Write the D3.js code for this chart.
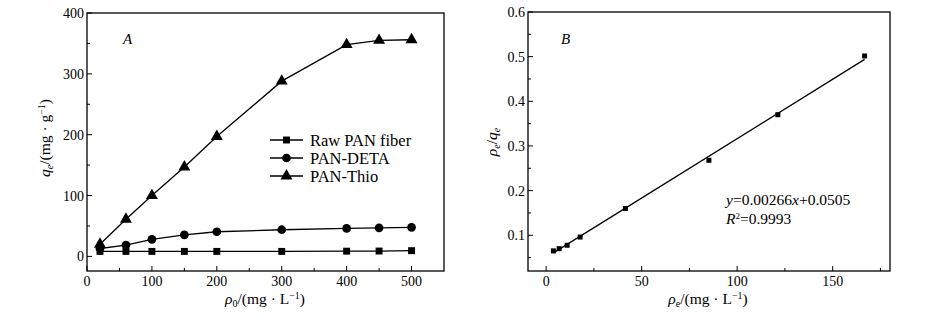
<!DOCTYPE html>
<html>
<head>
<meta charset="utf-8">
<script src="https://cdn.jsdelivr.net/npm/d3@7"></script>
<style>
  body { margin: 0; background: #fff; }
  svg text { font-family: "Liberation Serif", "Times New Roman", serif; fill: #000; }
</style>
</head>
<body>
<svg id="chart" width="945" height="325"></svg>
<script>
// Panel A data: adsorption capacity vs initial concentration
const rho0 = [20, 60, 100, 150, 200, 300, 400, 450, 500];
const rawPan = [8.2, 8.2, 8.2, 8.2, 8.2, 8.2, 8.6, 8.8, 9.4];
const panDeta = [13, 18.6, 28, 35.5, 40.5, 43.8, 46, 47, 47.7];
const panThio = [20, 61, 100, 147, 197, 288, 348, 355, 356];
const seriesNames = ["Raw PAN fiber", "PAN-DETA", "PAN-Thio"];

// Panel B data: linearised Langmuir plot
const rhoE = [3.8, 6.8, 11, 17.8, 41.5, 85.2, 121.3, 166.7];
const rhoEqE = [0.065, 0.070, 0.0776, 0.096, 0.160, 0.268, 0.370, 0.5015];
const fitSlope = 0.00266, fitIntercept = 0.0505;

const xTicksA = [0, 100, 200, 300, 400, 500];
const yTicksA = [0, 100, 200, 300, 400];
const xTicksB = [0, 50, 100, 150];
const yTicksB = [0.1, 0.2, 0.3, 0.4, 0.5, 0.6];

const svg = d3.select("#chart");
const FS = 14;

// draws the frame plus inward ticks on the bottom and left
function frame(g, x, y, xMaj, xMin, yMaj, yMin, yFmt) {
  const [x0, x1] = x.range(), [y0, y1] = y.range();
  g.append("rect").attr("x", x0).attr("y", y1).attr("width", x1 - x0).attr("height", y0 - y1)
    .attr("fill", "none").attr("stroke", "#000").attr("stroke-width", 1.3);

  g.selectAll(".xmin").data(xMin).enter().append("line")
    .attr("x1", d => x(d)).attr("x2", d => x(d)).attr("y1", y0).attr("y2", y0 - 3)
    .attr("stroke", "#000");
  g.selectAll(".xmaj").data(xMaj).enter().append("line")
    .attr("x1", d => x(d)).attr("x2", d => x(d)).attr("y1", y0).attr("y2", y0 - 5)
    .attr("stroke", "#000");
  g.selectAll(".xlab").data(xMaj).enter().append("text")
    .attr("x", d => x(d)).attr("y", y0 + 15).attr("text-anchor", "middle")
    .style("font-size", FS + "px").text(d => d);

  g.selectAll(".ymin").data(yMin).enter().append("line")
    .attr("y1", d => y(d)).attr("y2", d => y(d)).attr("x1", x0).attr("x2", x0 + 3)
    .attr("stroke", "#000");
  g.selectAll(".ymaj").data(yMaj).enter().append("line")
    .attr("y1", d => y(d)).attr("y2", d => y(d)).attr("x1", x0).attr("x2", x0 + 5)
    .attr("stroke", "#000");
  g.selectAll(".ylab").data(yMaj).enter().append("text")
    .attr("x", x0 - 3).attr("y", d => y(d) + 5).attr("text-anchor", "end")
    .style("font-size", FS + "px").text(yFmt);
}

// ---------- Panel A ----------
const xA = d3.scaleLinear().domain([0, 550]).range([87, 444]);
const yA = d3.scaleLinear().domain([-24, 400]).range([271, 13]);
const gA = svg.append("g");
frame(gA, xA, yA, xTicksA, [50, 150, 250, 350, 450],
      yTicksA, [50, 150, 250, 350], d => d);

const lineA = d3.line().x((d, i) => xA(rho0[i])).y(d => yA(d));
const symA = [d3.symbolSquare, d3.symbolCircle, d3.symbolTriangle];
const sizeA = [48, 60, 62];
[rawPan, panDeta, panThio].forEach((vals, k) => {
  gA.append("path").datum(vals).attr("d", lineA)
    .attr("fill", "none").attr("stroke", "#000").attr("stroke-width", 1.3);
  gA.selectAll(".m" + k).data(vals).enter().append("path")
    .attr("d", d3.symbol().type(symA[k]).size(sizeA[k]))
    .attr("transform", (d, i) => `translate(${xA(rho0[i])},${yA(d)})`)
    .attr("fill", "#000");
});

// legend
const leg = gA.append("g");
seriesNames.forEach((name, k) => {
  const ly = 140 + k * 18;
  leg.append("line").attr("x1", 270).attr("x2", 303).attr("y1", ly).attr("y2", ly)
    .attr("stroke", "#000").attr("stroke-width", 1.3);
  leg.append("path").attr("d", d3.symbol().type(symA[k]).size(sizeA[k]))
    .attr("transform", `translate(286.5,${ly})`).attr("fill", "#000");
  leg.append("text").attr("x", 310).attr("y", ly + 5.5).style("font-size", "16.5px").text(name);
});

gA.append("text").attr("x", 123).attr("y", 44).style("font-size", "15px")
  .style("font-style", "italic").text("A");

// axis titles A
const xtA = gA.append("text").attr("x", 265).attr("y", 304).attr("text-anchor", "middle")
  .style("font-size", "15.5px");
xtA.append("tspan").style("font-style", "italic").text("ρ");
xtA.append("tspan").attr("dy", 3).style("font-size", "10px").text("0");
xtA.append("tspan").attr("dy", -3).text("/(mg · L");
xtA.append("tspan").attr("dy", -5).style("font-size", "10px").text("−1");
xtA.append("tspan").attr("dy", 5).text(")");

const ytA = gA.append("text").attr("transform", "translate(50,138) rotate(-90)")
  .attr("text-anchor", "middle").style("font-size", "15.5px");
ytA.append("tspan").style("font-style", "italic").text("q");
ytA.append("tspan").attr("dy", 3).style("font-size", "10px").style("font-style", "italic").text("e");
ytA.append("tspan").attr("dy", -3).text("/(mg · g");
ytA.append("tspan").attr("dy", -5).style("font-size", "10px").text("−1");
ytA.append("tspan").attr("dy", 5).text(")");

// ---------- Panel B ----------
const xB = d3.scaleLinear().domain([-9.5, 180]).range([528, 890]);
const yB = d3.scaleLinear().domain([0.02, 0.6]).range([271, 12]);
const gB = svg.append("g");
frame(gB, xB, yB, xTicksB, [25, 75, 125, 175],
      yTicksB, [0.05, 0.15, 0.25, 0.35, 0.45, 0.55], d => d3.format(".1f")(d));

const fitX = d3.extent(rhoE);
gB.append("path").datum(fitX)
  .attr("d", d3.line().x(d => xB(d)).y(d => yB(fitSlope * d + fitIntercept)))
  .attr("fill", "none").attr("stroke", "#000").attr("stroke-width", 1.3);
gB.selectAll(".pt").data(rhoE).enter().append("rect")
  .attr("x", d => xB(d) - 2.5).attr("y", (d, i) => yB(rhoEqE[i]) - 2.5)
  .attr("width", 5).attr("height", 5).attr("fill", "#000");

gB.append("text").attr("x", 561).attr("y", 44).style("font-size", "15px")
  .style("font-style", "italic").text("B");

const eq = gB.append("text").attr("x", 726).attr("y", 205).style("font-size", "15.5px");
eq.append("tspan").style("font-style", "italic").text("y");
eq.append("tspan").text("=" + fitSlope);
eq.append("tspan").style("font-style", "italic").text("x");
eq.append("tspan").text("+" + fitIntercept);
const r2 = gB.append("text").attr("x", 726).attr("y", 224).style("font-size", "15.5px");
r2.append("tspan").style("font-style", "italic").text("R");
r2.append("tspan").attr("dy", -5).style("font-size", "9px").text("2");
r2.append("tspan").attr("dy", 5).text("=0.9993");

const xtB = gB.append("text").attr("x", 708).attr("y", 304).attr("text-anchor", "middle")
  .style("font-size", "15.5px");
xtB.append("tspan").style("font-style", "italic").text("ρ");
xtB.append("tspan").attr("dy", 3).style("font-size", "10px").text("e");
xtB.append("tspan").attr("dy", -3).text("/(mg · L");
xtB.append("tspan").attr("dy", -5).style("font-size", "10px").text("−1");
xtB.append("tspan").attr("dy", 5).text(")");

const ytB = gB.append("text").attr("transform", "translate(497,142) rotate(-90)")
  .attr("text-anchor", "middle").style("font-size", "15.5px");
ytB.append("tspan").style("font-style", "italic").text("ρ");
ytB.append("tspan").attr("dy", 3).style("font-size", "10px").style("font-style", "italic").text("e");
ytB.append("tspan").attr("dy", -3).text("/");
ytB.append("tspan").style("font-style", "italic").text("q");
ytB.append("tspan").attr("dy", 3).style("font-size", "10px").style("font-style", "italic").text("e");
</script>
</body>
</html>
